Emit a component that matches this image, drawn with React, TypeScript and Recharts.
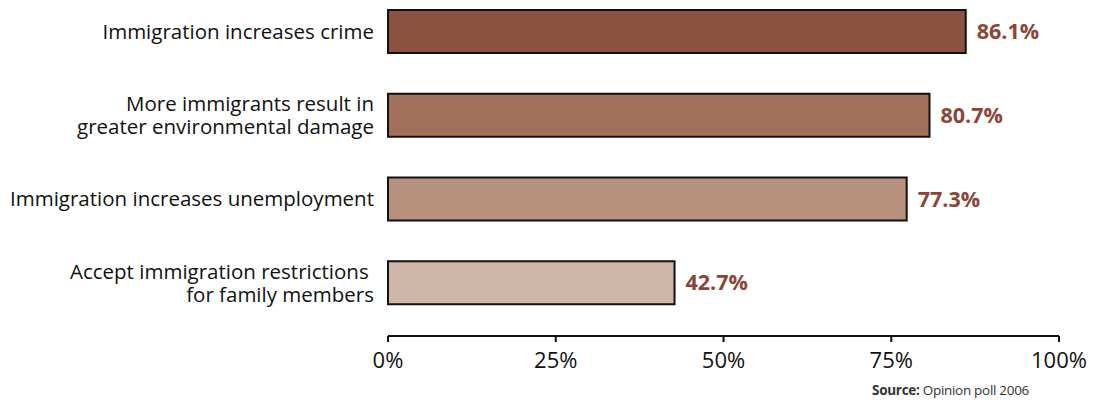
import React from "react";
import { BarChart, Bar, XAxis, YAxis, Cell, LabelList } from "recharts";

const categories = [
  "Immigration increases crime",
  "More immigrants result in\ngreater environmental damage",
  "Immigration increases unemployment",
  "Accept immigration restrictions \nfor family members",
];
const values = [86.1, 80.7, 77.3, 42.7];
const barColors = ["#8B5242", "#A3705D", "#B8917E", "#D0B6A9"];
const xTicks = [0, 25, 50, 75, 100];

const data = categories.map((c, i) => ({ name: c, value: values[i] }));

const FONT = "'Open Sans', 'Noto Sans', sans-serif";

const YTick = (props: any) => {
  const { x, y, payload } = props;
  const lines = String(payload.value).split("\n");
  const lh = 23;
  const start = -((lines.length - 1) * lh) / 2;
  return (
    <text x={x} y={y} textAnchor="end" fontFamily={FONT} fontSize={20.5} fill="#111">
      {lines.map((l, i) => (
        <tspan key={i} x={x} dy={i === 0 ? start + 7 : lh} style={{ whiteSpace: "pre" }}>
          {l}
        </tspan>
      ))}
    </text>
  );
};

const XTick = (props: any) => {
  const { x, y, payload } = props;
  return (
    <text x={x} y={y} dy={24} textAnchor="middle" fontFamily={FONT} fontSize={22} fill="#111">
      {payload.value}%
    </text>
  );
};

export default function App() {
  return (
    <div style={{ position: "absolute", left: 0, top: -10, width: 1093, height: 411, background: "#fff" }}>
      <BarChart
        width={1093}
        height={411}
        data={data}
        layout="vertical"
        margin={{ top: 0, right: 34, bottom: 0, left: 0 }}
      >
        <XAxis
          type="number"
          domain={[0, 100]}
          ticks={xTicks}
          height={65}
          axisLine={{ stroke: "#111", strokeWidth: 2 }}
          tickLine={{ stroke: "#111", strokeWidth: 2 }}
          tickSize={6}
          tick={<XTick />}
          interval={0}
        />
        <YAxis
          type="category"
          dataKey="name"
          width={388}
          padding={{ top: 0, bottom: 11 }}
          axisLine={false}
          tickLine={false}
          tickMargin={8}
          tick={<YTick />}
          interval={0}
        />
        <Bar dataKey="value" barSize={43} stroke="#111" strokeWidth={2} isAnimationActive={false}>
          {data.map((d, i) => (
            <Cell key={i} fill={barColors[i]} />
          ))}
          <LabelList
            dataKey="value"
            position="right"
            offset={11}
            formatter={(v: any) => `${Number(v).toFixed(1)}%`}
            style={{ fontFamily: FONT, fontSize: 21.5, fontWeight: 700, fill: "#8B4535" }}
          />
        </Bar>
      </BarChart>
      <div
        style={{
          position: "absolute",
          right: 64,
          top: 391,
          fontFamily: FONT,
          fontSize: 13.5,
          color: "#333",
          whiteSpace: "nowrap",
          letterSpacing: -0.3,
        }}
      >
        <b>Source:</b> Opinion poll 2006
      </div>
    </div>
  );
}
